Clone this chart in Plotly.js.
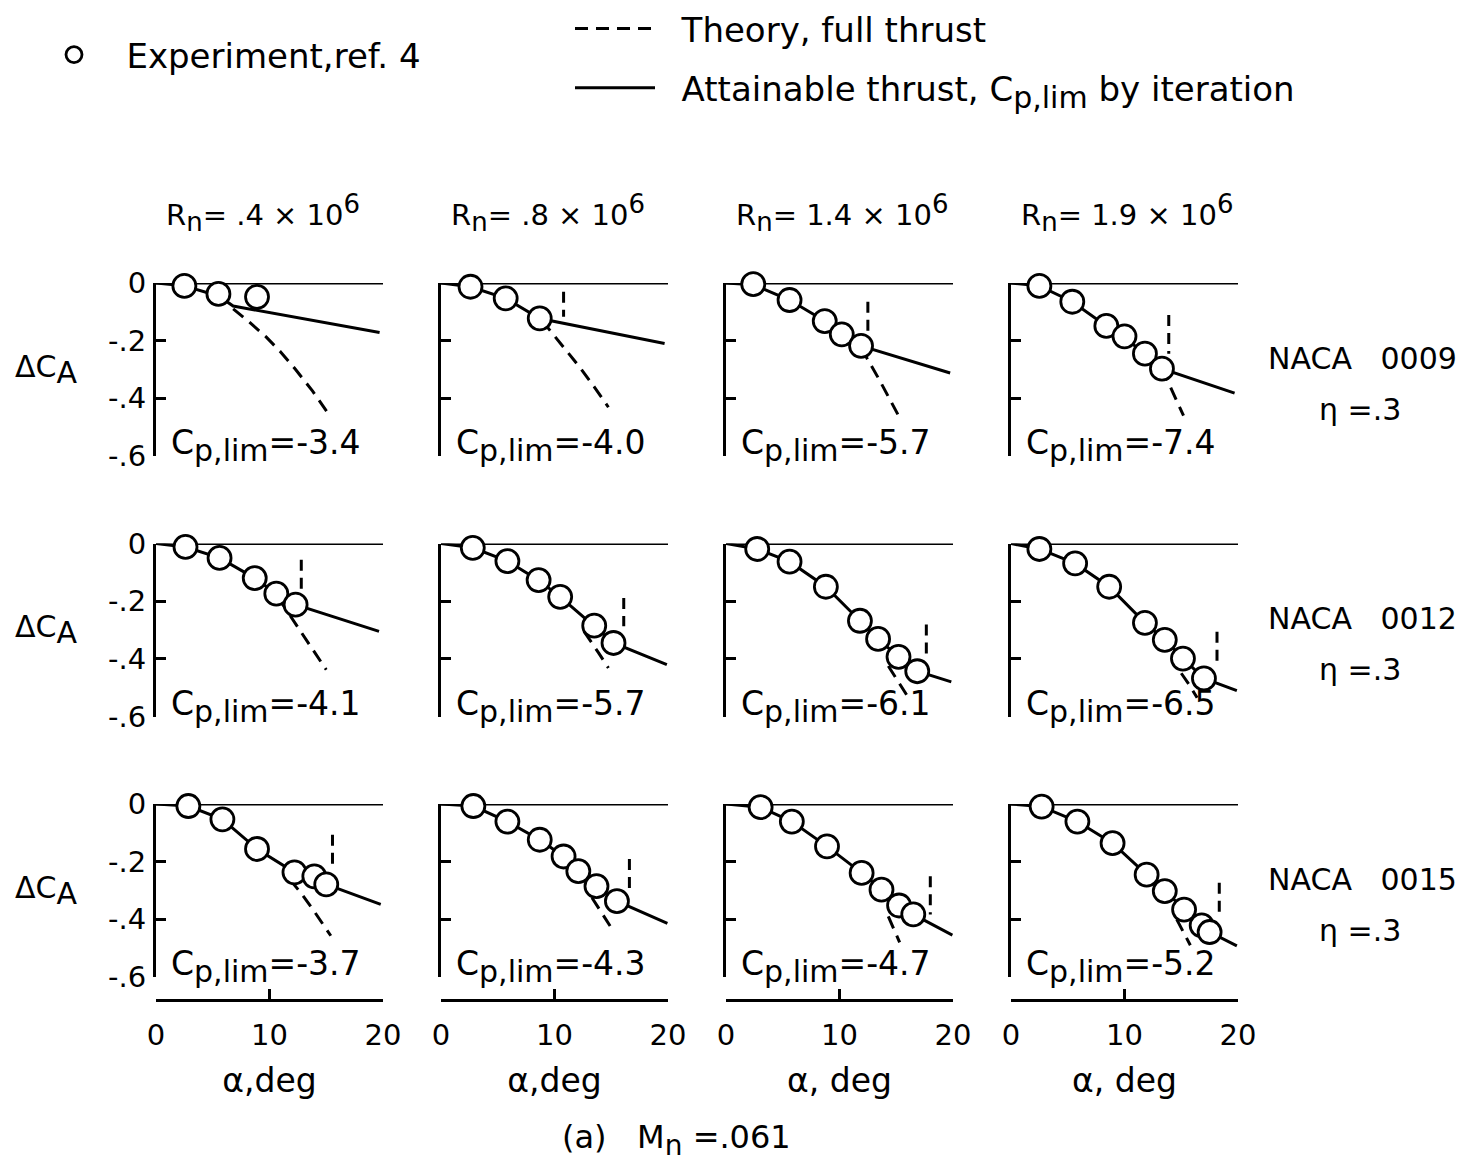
<!DOCTYPE html>
<html>
<head>
<meta charset="utf-8">
<script src="https://cdn.plot.ly/plotly-3.0.1.min.js"></script>
<style>
  body { margin: 0; background: white; }
  #chart { width: 1469px; height: 1170px; }
</style>
</head>
<body>
<div id="chart"></div>
<script>
// column / row labels
const reynolds = ['.4', '.8', '1.4', '1.9']
const airfoils = ['0009', '0012', '0015']
const alphaLabels = ['α,deg', 'α,deg', 'α, deg', 'α, deg']
const cpLim = [
    ['-3.4', '-4.0', '-5.7', '-7.4'],
    ['-4.1', '-5.7', '-6.1', '-6.5'],
    ['-3.7', '-4.3', '-4.7', '-5.2'],
]

// NACA 0009
const exp0009Alpha = [[2.5, 5.5, 8.9], [2.6, 5.7, 8.7], [2.4, 5.6, 8.7, 10.2, 11.9], [2.5, 5.4, 8.4, 10.0, 11.8, 13.3]]
const exp0009Dca = [[-0.01, -0.038, -0.048], [-0.013, -0.053, -0.123], [-0.004, -0.059, -0.132, -0.178, -0.218], [-0.01, -0.065, -0.149, -0.185, -0.245, -0.297]]
const att0009Alpha = [[0, 2.5, 5.5, 6.8, 19.7], [0, 2.6, 5.7, 8.7, 19.7], [0, 2.4, 5.6, 8.7, 10.2, 11.9, 19.75], [0, 2.5, 5.4, 8.4, 10.0, 11.8, 13.3, 19.7]]
const att0009Dca = [[0, -0.01, -0.045, -0.08, -0.172], [0, -0.013, -0.053, -0.123, -0.21], [0, -0.006, -0.059, -0.132, -0.178, -0.218, -0.312], [0, -0.01, -0.065, -0.149, -0.19, -0.245, -0.297, -0.382]]
const th0009Alpha = [[6.8, 8.2, 9.7, 11.0, 12.3, 13.8, 15.2], [8.9, 11.0, 12.3, 13.5, 14.75], [11.9, 13.5, 15.2], [13.3, 14.2, 15.2]]
const th0009Dca = [[-0.09, -0.135, -0.187, -0.24, -0.3, -0.375, -0.454], [-0.13, -0.232, -0.296, -0.36, -0.431], [-0.225, -0.335, -0.46], [-0.297, -0.375, -0.46]]
const mark0009Alpha = [null, 10.8, 12.5, 13.9]
const mark0009Top = [null, -0.03, -0.065, -0.111]
const mark0009Bottom = [null, -0.117, -0.17, -0.245]

// NACA 0012
const exp0012Alpha = [[2.6, 5.6, 8.7, 10.6, 12.3], [2.8, 5.85, 8.6, 10.5, 13.5, 15.2], [2.75, 5.6, 8.8, 11.8, 13.4, 15.2, 16.85], [2.5, 5.65, 8.65, 11.8, 13.55, 15.15, 17.0]]
const exp0012Dca = [[-0.012, -0.05, -0.12, -0.174, -0.212], [-0.015, -0.061, -0.127, -0.185, -0.285, -0.345], [-0.019, -0.063, -0.15, -0.268, -0.331, -0.393, -0.443], [-0.019, -0.069, -0.15, -0.275, -0.334, -0.399, -0.468]]
const att0012Alpha = [[0, 2.6, 5.6, 8.7, 10.6, 12.3, 19.65], [0, 2.8, 5.85, 8.6, 10.5, 13.5, 15.2, 19.9], [0, 2.75, 5.6, 8.8, 11.8, 13.4, 15.2, 16.85, 19.85], [0, 2.5, 5.65, 8.65, 11.8, 13.55, 15.15, 17.0, 19.9]]
const att0012Dca = [[0, -0.012, -0.05, -0.12, -0.174, -0.212, -0.305], [0, -0.015, -0.061, -0.127, -0.185, -0.285, -0.345, -0.42], [0, -0.019, -0.063, -0.15, -0.268, -0.331, -0.393, -0.443, -0.48], [0, -0.019, -0.069, -0.15, -0.275, -0.334, -0.399, -0.468, -0.51]]
const th0012Alpha = [[10.8, 12.0, 13.5, 15.0], [12.6, 13.1, 13.9, 14.75], [14.3, 15.0, 15.5, 16.0], [15.0, 15.7, 16.4]]
const th0012Dca = [[-0.19, -0.262, -0.35, -0.438], [-0.305, -0.333, -0.38, -0.432], [-0.425, -0.468, -0.5, -0.53], [-0.45, -0.49, -0.535]]
const mark0012Alpha = [12.8, 16.1, 17.65, 18.15]
const mark0012Top = [-0.056, -0.189, -0.281, -0.306]
const mark0012Bottom = [-0.165, -0.287, -0.393, -0.424]

// NACA 0015
const exp0015Alpha = [[2.85, 5.85, 8.9, 12.2, 13.95, 15.0], [2.85, 5.85, 8.7, 10.8, 12.1, 13.7, 15.5], [3.05, 5.8, 8.9, 11.95, 13.7, 15.25, 16.5], [2.7, 5.85, 8.95, 11.95, 13.55, 15.25, 16.8, 17.5]]
const exp0015Dca = [[-0.007, -0.053, -0.156, -0.237, -0.251, -0.279], [-0.007, -0.061, -0.124, -0.182, -0.233, -0.285, -0.337], [-0.011, -0.061, -0.147, -0.239, -0.297, -0.352, -0.383], [-0.009, -0.061, -0.136, -0.245, -0.302, -0.366, -0.421, -0.444]]
const att0015Alpha = [[0, 2.85, 5.85, 8.9, 12.2, 15.0, 19.8], [0, 2.85, 5.85, 8.7, 10.8, 12.1, 13.7, 15.5, 19.95], [0, 3.05, 5.8, 8.9, 11.95, 13.7, 15.25, 16.5, 19.95], [0, 2.7, 5.85, 8.95, 11.95, 13.55, 15.25, 16.8, 17.5, 19.9]]
const att0015Dca = [[0, -0.007, -0.053, -0.156, -0.237, -0.279, -0.348], [0, -0.007, -0.061, -0.124, -0.182, -0.233, -0.285, -0.337, -0.414], [0, -0.011, -0.061, -0.147, -0.239, -0.297, -0.352, -0.383, -0.455], [0, -0.009, -0.061, -0.136, -0.245, -0.302, -0.366, -0.421, -0.444, -0.492]]
const th0015Alpha = [[11.8, 12.8, 13.9, 15.4], [13.3, 14.1, 14.9], [14.3, 14.8, 15.3], [14.6, 15.2, 15.8]]
const th0015Dca = [[-0.262, -0.31, -0.37, -0.457], [-0.325, -0.375, -0.423], [-0.39, -0.435, -0.48], [-0.4, -0.445, -0.49]]
const mark0015Alpha = [15.55, 16.6, 18.0, 18.35]
const mark0015Top = [-0.107, -0.191, -0.251, -0.273]
const mark0015Bottom = [-0.228, -0.302, -0.383, -0.394]

const rows = [
    { exp: [exp0009Alpha, exp0009Dca], att: [att0009Alpha, att0009Dca], th: [th0009Alpha, th0009Dca], mark: [mark0009Alpha, mark0009Top, mark0009Bottom] },
    { exp: [exp0012Alpha, exp0012Dca], att: [att0012Alpha, att0012Dca], th: [th0012Alpha, th0012Dca], mark: [mark0012Alpha, mark0012Top, mark0012Bottom] },
    { exp: [exp0015Alpha, exp0015Dca], att: [att0015Alpha, att0015Dca], th: [th0015Alpha, th0015Dca], mark: [mark0015Alpha, mark0015Top, mark0015Bottom] },
]

// page geometry in px
const W = 1469
const H = 1170
const colLeft = [156, 441, 726, 1011]
const colWidth = 227
const rowTop = [283, 543.5, 804]
const rowHeight = 173
const bottomAxisY = 1000

const fontFamily = 'DejaVu Sans, Liberation Sans, sans-serif'
const fs = 28
const ink = 'black'
const nb = '\u00a0'

// subscript that stays nearly full size, as in the drawing
function sub(t, size) {
    return `<sub><span style="font-size:${size}px">${t}</span></sub>`
}

const traces = []
const shapes = []
const annotations = []
const layout = {
    width: W,
    height: H,
    margin: { l: 0, r: 0, t: 0, b: 0 },
    paper_bgcolor: 'white',
    plot_bgcolor: 'rgba(0,0,0,0)',
    font: { family: fontFamily, size: fs, color: ink },
    showlegend: true,
    legend: {
        x: 54 / W, y: 1 - 26 / H, xanchor: 'left', yanchor: 'top',
        bgcolor: 'rgba(0,0,0,0)', font: { size: 34 },
    },
    legend2: {
        x: 570 / W, y: 1, xanchor: 'left', yanchor: 'top',
        bgcolor: 'rgba(0,0,0,0)', font: { size: 34 },
        itemwidth: 80, tracegroupgap: 12, traceorder: 'grouped',
    },
}

for (let r = 0; r < 3; r++) {
    const row = rows[r]
    for (let c = 0; c < 4; c++) {
        const k = r * 4 + c + 1
        const xid = k === 1 ? 'x' : 'x' + k
        const yid = k === 1 ? 'y' : 'y' + k
        const xkey = k === 1 ? 'xaxis' : 'xaxis' + k
        const ykey = k === 1 ? 'yaxis' : 'yaxis' + k
        const bottom = r === 2

        layout[xkey] = {
            domain: [colLeft[c] / W, (colLeft[c] + colWidth) / W],
            range: [0, 20],
            anchor: bottom ? 'free' : yid,
            position: bottom ? 1 - bottomAxisY / H : undefined,
            showline: bottom,
            linewidth: 3,
            linecolor: ink,
            ticks: bottom ? 'inside' : '',
            ticklen: 10,
            tickwidth: 3,
            tickcolor: ink,
            tickvals: [0, 10, 20],
            ticktext: ['0', '10', '20'],
            showticklabels: bottom,
            ticklabelstandoff: 8,
            tickfont: { size: 29 },
            showgrid: false,
            zeroline: false,
            fixedrange: true,
            title: bottom ? { text: alphaLabels[c], font: { size: 33 }, standoff: 18 } : { text: '' },
        }
        layout[ykey] = {
            domain: [1 - (rowTop[r] + rowHeight) / H, 1 - rowTop[r] / H],
            range: [-0.6, 0],
            anchor: xid,
            showline: true,
            linewidth: 3,
            linecolor: ink,
            ticks: 'inside',
            ticklen: 10,
            tickwidth: 3,
            tickcolor: ink,
            tickvals: [0, -0.2, -0.4, -0.6],
            ticktext: ['0', '-.2', '-.4', '-.6'],
            showticklabels: c === 0,
            ticklabelstandoff: 1,
            tickfont: { size: 29 },
            showgrid: false,
            zeroline: false,
            fixedrange: true,
        }

        // zero line across the top of each panel
        shapes.push({
            type: 'line', xref: xid + ' domain', yref: yid,
            x0: 0, x1: 1, y0: 0, y1: 0,
            line: { color: ink, width: 3 }, layer: 'below',
        })

        const first = k === 1
        traces.push({
            x: row.th[0][c], y: row.th[1][c], xaxis: xid, yaxis: yid,
            mode: 'lines', line: { color: ink, width: 3, dash: '13px,8px' },
            name: nb + nb + 'Theory, full thrust', showlegend: first, legend: 'legend2', legendgroup: 'th',
            hoverinfo: 'skip',
        })
        traces.push({
            x: row.att[0][c], y: row.att[1][c], xaxis: xid, yaxis: yid,
            mode: 'lines', line: { color: ink, width: 3 },
            name: nb + nb + 'Attainable thrust, C' + sub('p,lim', 30) + ' by iteration',
            showlegend: first, legend: 'legend2', legendgroup: 'att',
            hoverinfo: 'skip',
        })
        const ma = row.mark[0][c]
        if (ma !== null) {
            traces.push({
                x: [ma, ma], y: [row.mark[1][c], row.mark[2][c]], xaxis: xid, yaxis: yid,
                mode: 'lines', line: { color: ink, width: 3, dash: '11px,7px' },
                showlegend: false, hoverinfo: 'skip',
            })
        }
        traces.push({
            x: row.exp[0][c], y: row.exp[1][c], xaxis: xid, yaxis: yid,
            mode: 'markers', cliponaxis: false,
            marker: { symbol: 'circle', size: 23, color: 'white', line: { color: ink, width: 2.8 } },
            name: nb + nb + nb + 'Experiment,ref. 4', showlegend: first, legend: 'legend',
            hoverinfo: 'skip',
        })

        annotations.push({
            text: 'C' + sub('p,lim', 30) + '=' + cpLim[r][c],
            xref: xid + ' domain', yref: yid + ' domain', x: 0, y: 0,
            xanchor: 'left', yanchor: 'bottom', xshift: 13, yshift: -14,
            showarrow: false, font: { size: 33 },
        })
    }

    annotations.push({
        text: 'ΔC' + sub('A', 30), xref: 'paper', yref: 'paper',
        x: 13 / W, y: 1 - (rowTop[r] + 86) / H, xanchor: 'left', yanchor: 'middle',
        showarrow: false, font: { size: 30 },
    })
    annotations.push({
        text: 'NACA' + nb + nb + nb + airfoils[r], xref: 'paper', yref: 'paper',
        x: 1362 / W, y: 1 - (rowTop[r] + 75) / H, xanchor: 'center', yanchor: 'middle',
        showarrow: false, font: { size: 30 },
    })
    annotations.push({
        text: 'η =.3', xref: 'paper', yref: 'paper',
        x: 1360 / W, y: 1 - (rowTop[r] + 126) / H, xanchor: 'center', yanchor: 'middle',
        showarrow: false, font: { size: 30 },
    })
}

for (let c = 0; c < 4; c++) {
    annotations.push({
        text: 'R' + sub('n', 26) + '= ' + reynolds[c] + ' × 10<sup><span style="font-size:26px">6</span></sup>',
        xref: 'paper', yref: 'paper',
        x: (colLeft[c] + 8) / W, y: 1 - 213 / H, xanchor: 'left', yanchor: 'middle',
        showarrow: false, font: { size: 29 },
    })
}

annotations.push({
    text: '(a)' + nb + nb + nb + 'M' + sub('n', 28) + ' =.061', xref: 'paper', yref: 'paper',
    x: 676 / W, y: 1 - 1140 / H, xanchor: 'center', yanchor: 'middle',
    showarrow: false, font: { size: 32 },
})

layout.shapes = shapes
layout.annotations = annotations

Plotly.newPlot('chart', traces, layout, { staticPlot: true, displayModeBar: false })
</script>
</body>
</html>
